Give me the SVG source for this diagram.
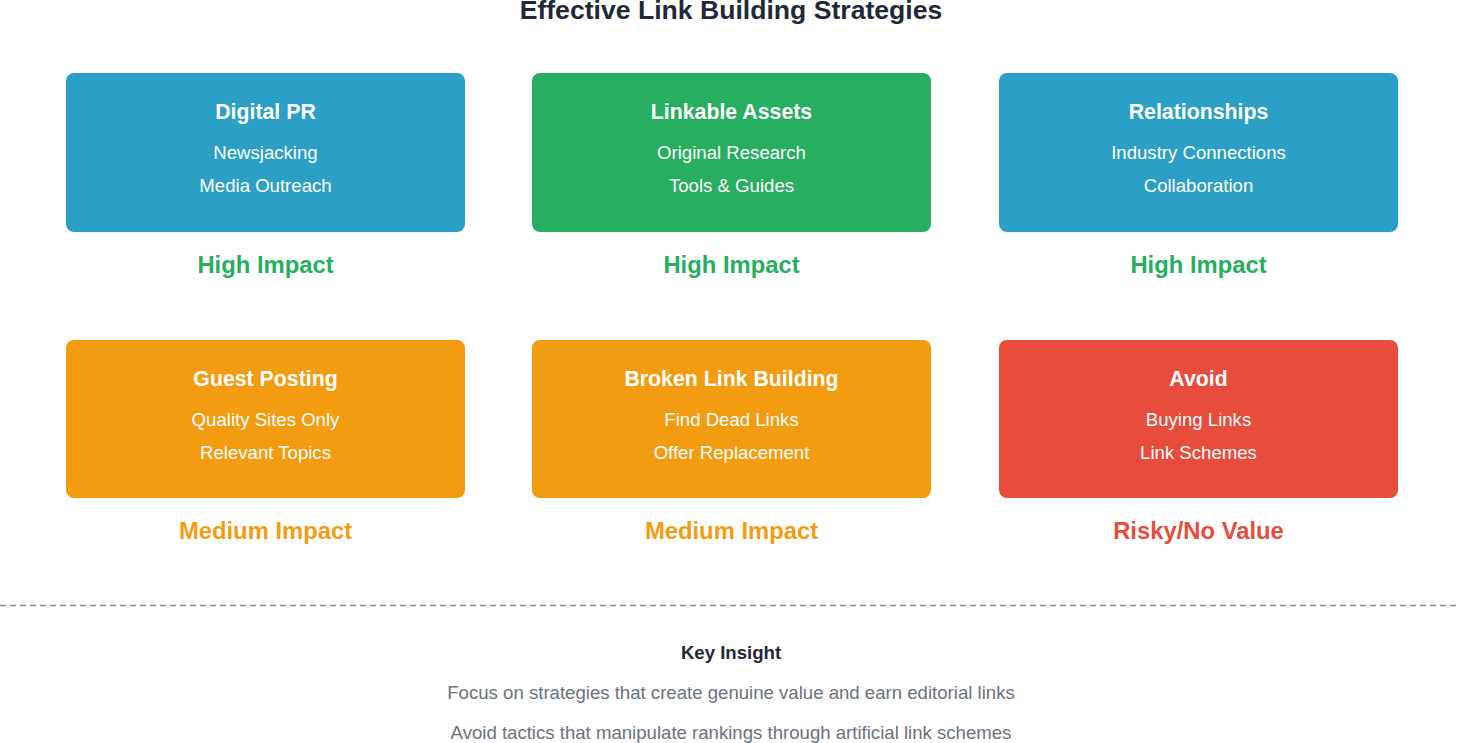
<svg xmlns="http://www.w3.org/2000/svg" width="1458" height="743" viewBox="0 0 1458 743">
<style>
text{font-family:"Liberation Sans",Arial,sans-serif;text-anchor:middle}
.t{font-size:21.3px;font-weight:bold;fill:#fff}
.i{font-size:18.6px;fill:#fff}
.imp{font-size:23.8px;font-weight:bold}
.g{fill:#27ae60}.o{fill:#f39c12}.r{fill:#e74c3c}.b{fill:#2b9fc6}
</style>
<rect width="1458" height="743" fill="#fff"/>
<text x="731" y="19" font-size="26.6" font-weight="bold" fill="#1f2937">Effective Link Building Strategies</text>
<g id="digital-pr"><rect class="b" x="66" y="73" width="399" height="159" rx="8"/><text class="t" x="265.5" y="119">Digital PR</text><text class="i" x="265.5" y="159">Newsjacking</text><text class="i" x="265.5" y="192">Media Outreach</text><text class="imp g" x="265.5" y="273">High Impact</text></g>
<g id="linkable-assets"><rect class="g" x="532" y="73" width="399" height="159" rx="8"/><text class="t" x="731.5" y="119">Linkable Assets</text><text class="i" x="731.5" y="159">Original Research</text><text class="i" x="731.5" y="192">Tools &amp; Guides</text><text class="imp g" x="731.5" y="273">High Impact</text></g>
<g id="relationships"><rect class="b" x="999" y="73" width="399" height="159" rx="8"/><text class="t" x="1198.5" y="119">Relationships</text><text class="i" x="1198.5" y="159">Industry Connections</text><text class="i" x="1198.5" y="192">Collaboration</text><text class="imp g" x="1198.5" y="273">High Impact</text></g>
<g id="guest-posting"><rect class="o" x="66" y="340" width="399" height="158" rx="8"/><text class="t" x="265.5" y="386">Guest Posting</text><text class="i" x="265.5" y="426">Quality Sites Only</text><text class="i" x="265.5" y="459">Relevant Topics</text><text class="imp o" x="265.5" y="539">Medium Impact</text></g>
<g id="broken-link"><rect class="o" x="532" y="340" width="399" height="158" rx="8"/><text class="t" x="731.5" y="386">Broken Link Building</text><text class="i" x="731.5" y="426">Find Dead Links</text><text class="i" x="731.5" y="459">Offer Replacement</text><text class="imp o" x="731.5" y="539">Medium Impact</text></g>
<g id="avoid"><rect class="r" x="999" y="340" width="399" height="158" rx="8"/><text class="t" x="1198.5" y="386">Avoid</text><text class="i" x="1198.5" y="426">Buying Links</text><text class="i" x="1198.5" y="459">Link Schemes</text><text class="imp r" x="1198.5" y="539">Risky/No Value</text></g>
<g id="connectors"><line x1="0" y1="605.5" x2="1458" y2="605.5" stroke="#888" stroke-width="1.5" stroke-dasharray="6,4"/></g>
<g id="insight"><text x="731" y="659" font-size="18.6" font-weight="bold" fill="#1f2937">Key Insight</text>
<text x="731" y="699" font-size="18.6" fill="#6b7280">Focus on strategies that create genuine value and earn editorial links</text>
<text x="731" y="739" font-size="18.6" fill="#6b7280">Avoid tactics that manipulate rankings through artificial link schemes</text></g>
</svg>
